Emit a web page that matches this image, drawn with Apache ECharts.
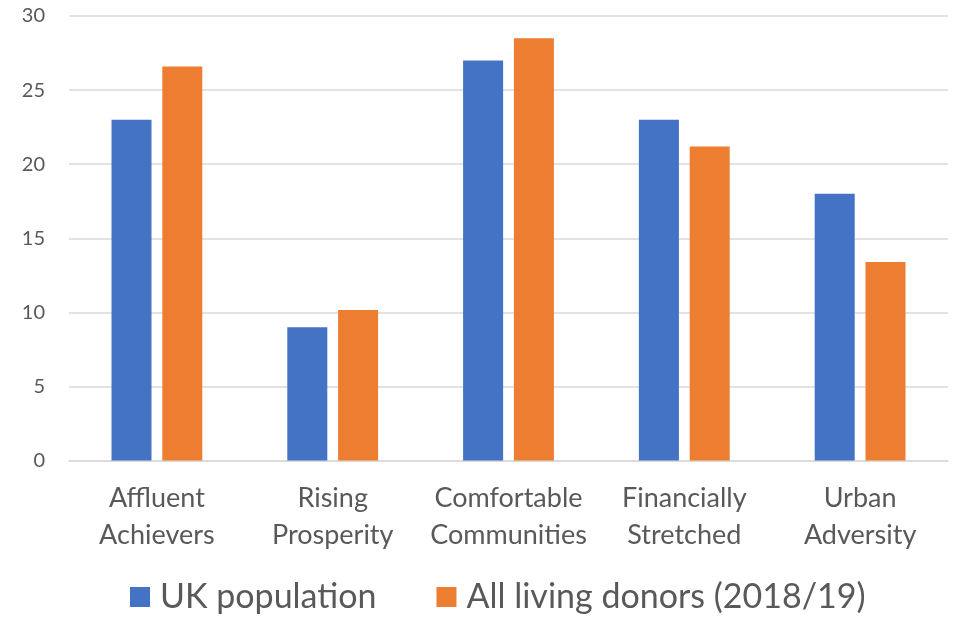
<!DOCTYPE html>
<html><head><meta charset="utf-8">
<script src="https://cdn.jsdelivr.net/npm/echarts@6/dist/echarts.min.js"></script>
<style>html,body{margin:0;padding:0;background:#fff}#c{width:959px;height:618px}</style>
</head><body><div id="c"></div>
<script>
const categories = ['Affluent\nAchievers', 'Rising\nProsperity', 'Comfortable\nCommunities', 'Financially\nStretched', 'Urban\nAdversity'];
const ukPopulation = [23, 9, 27, 23, 18];
const livingDonors = [26.6, 10.15, 28.5, 21.2, 13.4];
const seriesNames = ['UK population', 'All living donors (2018/19)'];
const yTicks = { min: 0, max: 30, interval: 5 };

const FONT = 'Lato';
const chart = echarts.init(document.getElementById('c'), null, { renderer: 'canvas' });
chart.setOption({
  animation: false,
  color: ['#4472C4', '#ED7D31'],
  grid: { left: 69, right: 11, top: 16, bottom: 157.5, containLabel: false },
  legend: {
    bottom: -1, left: 125,
    itemWidth: 20, itemHeight: 20, itemGap: 60,
    icon: 'rect',
    textStyle: { fontFamily: FONT, fontSize: 34, color: '#595959', padding: [0, 0, 0, 5] },
    data: seriesNames
  },
  xAxis: {
    type: 'category', data: categories,
    axisLine: { lineStyle: { color: '#D9D9D9', width: 1.5 } },
    axisTick: { show: false },
    axisLabel: { fontFamily: FONT, fontSize: 27, color: '#595959', lineHeight: 37, margin: 19, interval: 0 }
  },
  yAxis: {
    type: 'value', min: yTicks.min, max: yTicks.max, interval: yTicks.interval,
    axisLine: { show: false }, axisTick: { show: false },
    splitLine: { lineStyle: { color: '#D9D9D9', width: 1.5 } },
    axisLabel: { fontFamily: FONT, fontSize: 20, color: '#595959', margin: 24 }
  },
  series: [
    { name: seriesNames[0], type: 'bar', data: ukPopulation, barWidth: 40, barGap: '27%' },
    { name: seriesNames[1], type: 'bar', data: livingDonors, barWidth: 40, barGap: '27%' }
  ]
});
</script></body></html>
